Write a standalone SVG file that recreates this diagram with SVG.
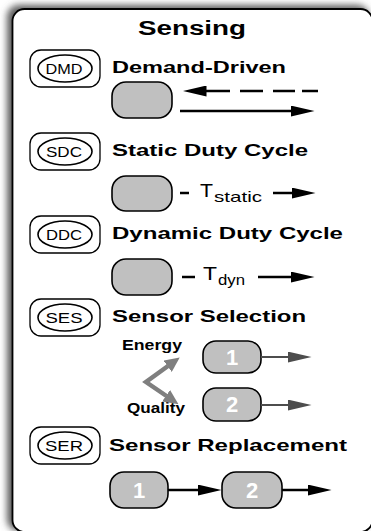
<svg xmlns="http://www.w3.org/2000/svg" width="371" height="531" viewBox="0 0 371 531">
  <defs>
    <filter id="shade" x="-10%" y="-10%" width="120%" height="120%">
      <feGaussianBlur stdDeviation="3.5"/>
    </filter>
    <marker id="headB" markerUnits="userSpaceOnUse" markerWidth="24" markerHeight="11" refX="0.5" refY="5.5" orient="auto">
      <path d="M0,0 L24,5.5 L0,11 z" fill="#000"/>
    </marker>
    <marker id="headG" markerUnits="userSpaceOnUse" markerWidth="24" markerHeight="11" refX="0.5" refY="5.5" orient="auto">
      <path d="M0,0 L24,5.5 L0,11 z" fill="#4d4d4d"/>
    </marker>
    <marker id="headZ" markerUnits="userSpaceOnUse" markerWidth="15" markerHeight="14" refX="0.5" refY="7" orient="auto-start-reverse">
      <path d="M0,0 L15,7 L0,14 z" fill="#7f7f7f"/>
    </marker>
    <style>
      text { font-family: "Liberation Sans", Arial, Helvetica, sans-serif; }
      .ttl { font-size: 20px; font-weight: bold; }
      .head { font-size: 16.5px; font-weight: bold; }
      .tag { font-size: 14px; text-anchor: middle; }
      .crit { font-size: 14px; font-weight: bold; }
      .dig { font-size: 22px; font-weight: bold; fill: #fff; text-anchor: middle; }
      .per { font-size: 19px; }
      .sub { font-size: 15px; }
      .badge-o { fill: #fff; stroke: #000; stroke-width: 1.3; }
      .badge-i { fill: #fff; stroke: #000; stroke-width: 1.6; }
      .sensor { fill: #c0c0c0; stroke: #000; stroke-width: 1.6; }
      .ab { fill: none; stroke: #000; stroke-width: 2.5; }
      .ag { fill: none; stroke: #4d4d4d; stroke-width: 2; }
      .az { fill: none; stroke: #7f7f7f; stroke-width: 4.5; stroke-linejoin: miter; }
    </style>
  </defs>

  <!-- panel with soft shadow -->
  <rect x="7" y="5" width="362" height="526" rx="12" fill="#5a5a5a" filter="url(#shade)"/>
  <rect x="12.5" y="9" width="360" height="523" rx="12" fill="#fff" stroke="#000" stroke-width="1.8"/>

  <text class="ttl" x="138" y="35" textLength="108" lengthAdjust="spacingAndGlyphs">Sensing</text>

  <!-- Demand-Driven -->
  <g id="dmd">
    <rect class="badge-o" x="30" y="50" width="70" height="37" rx="11"/>
    <ellipse class="badge-i" cx="65" cy="68.5" rx="27" ry="13.5"/>
    <text class="tag" x="64" y="73.5" textLength="37" lengthAdjust="spacingAndGlyphs">DMD</text>
    <text class="head" x="112" y="73" textLength="174" lengthAdjust="spacingAndGlyphs">Demand-Driven</text>
    <rect class="sensor" x="112" y="82" width="60" height="36" rx="14"/>
  </g>

  <!-- Static Duty Cycle -->
  <g id="sdc">
    <rect class="badge-o" x="30" y="133" width="70" height="37" rx="11"/>
    <ellipse class="badge-i" cx="65" cy="151.5" rx="27" ry="13.5"/>
    <text class="tag" x="64" y="156.5" textLength="36" lengthAdjust="spacingAndGlyphs">SDC</text>
    <text class="head" x="112" y="156" textLength="196" lengthAdjust="spacingAndGlyphs">Static Duty Cycle</text>
    <rect class="sensor" x="112" y="176" width="60" height="35" rx="14"/>
    <text class="per" x="200" y="197" textLength="13" lengthAdjust="spacingAndGlyphs">T</text>
    <text class="sub" x="214" y="202" textLength="48" lengthAdjust="spacingAndGlyphs">static</text>
  </g>

  <!-- Dynamic Duty Cycle -->
  <g id="ddc">
    <rect class="badge-o" x="30" y="216" width="70" height="37" rx="11"/>
    <ellipse class="badge-i" cx="65" cy="234.5" rx="27" ry="13.5"/>
    <text class="tag" x="64" y="239.5" textLength="36" lengthAdjust="spacingAndGlyphs">DDC</text>
    <text class="head" x="112" y="239" textLength="231" lengthAdjust="spacingAndGlyphs">Dynamic Duty Cycle</text>
    <rect class="sensor" x="112" y="259" width="60" height="36" rx="14"/>
    <text class="per" x="203" y="280" textLength="14" lengthAdjust="spacingAndGlyphs">T</text>
    <text class="sub" x="218" y="285" textLength="27" lengthAdjust="spacingAndGlyphs">dyn</text>
  </g>

  <!-- Sensor Selection -->
  <g id="ses">
    <rect class="badge-o" x="30" y="299" width="70" height="37" rx="11"/>
    <ellipse class="badge-i" cx="65" cy="317.5" rx="27" ry="13.5"/>
    <text class="tag" x="64" y="322.5" textLength="37" lengthAdjust="spacingAndGlyphs">SES</text>
    <text class="head" x="112" y="322" textLength="194" lengthAdjust="spacingAndGlyphs">Sensor Selection</text>
    <text class="crit" x="122" y="350" textLength="60" lengthAdjust="spacingAndGlyphs">Energy</text>
    <text class="crit" x="127" y="413" textLength="58" lengthAdjust="spacingAndGlyphs">Quality</text>
  </g>
  <g id="ses-1">
    <rect class="sensor" x="203" y="341" width="58" height="32" rx="13"/>
    <text class="dig" x="232" y="365">1</text>
  </g>
  <g id="ses-2">
    <rect class="sensor" x="203" y="388" width="58" height="33" rx="13"/>
    <text class="dig" x="232" y="412">2</text>
  </g>

  <!-- Sensor Replacement -->
  <g id="ser">
    <rect class="badge-o" x="30" y="427" width="70" height="37" rx="11"/>
    <ellipse class="badge-i" cx="65" cy="445.5" rx="27" ry="13.5"/>
    <text class="tag" x="64" y="450.5" textLength="38" lengthAdjust="spacingAndGlyphs">SER</text>
    <text class="head" x="109" y="451" textLength="238" lengthAdjust="spacingAndGlyphs">Sensor Replacement</text>
  </g>
  <g id="ser-1">
    <rect class="sensor" x="110" y="472" width="58" height="36" rx="14"/>
    <text class="dig" x="139" y="498">1</text>
  </g>
  <g id="ser-2">
    <rect class="sensor" x="222" y="472" width="60" height="36" rx="14"/>
    <text class="dig" x="252" y="498">2</text>
  </g>

  <!-- connectors -->
  <g id="connectors">
    <path class="ab" d="M318,91 H206" stroke-dasharray="16 7 22 10 23 10 27" marker-end="url(#headB)"/>
    <path class="ab" d="M180,111 H291" marker-end="url(#headB)"/>
    <path class="ab" d="M180,193 H189"/>
    <path class="ab" d="M273,193 H292" marker-end="url(#headB)"/>
    <path class="ab" d="M182,277 H195"/>
    <path class="ab" d="M258,277 H291" marker-end="url(#headB)"/>
    <path class="az" d="M168,366 L146,382 L166.5,396" marker-start="url(#headZ)" marker-end="url(#headZ)"/>
    <path class="ag" d="M261,357 H288" marker-end="url(#headG)"/>
    <path class="ag" d="M261,405 H288" marker-end="url(#headG)"/>
    <path class="ab" d="M168,490 H198" marker-end="url(#headB)"/>
    <path class="ab" d="M282,490 H308" marker-end="url(#headB)"/>
  </g>
</svg>
